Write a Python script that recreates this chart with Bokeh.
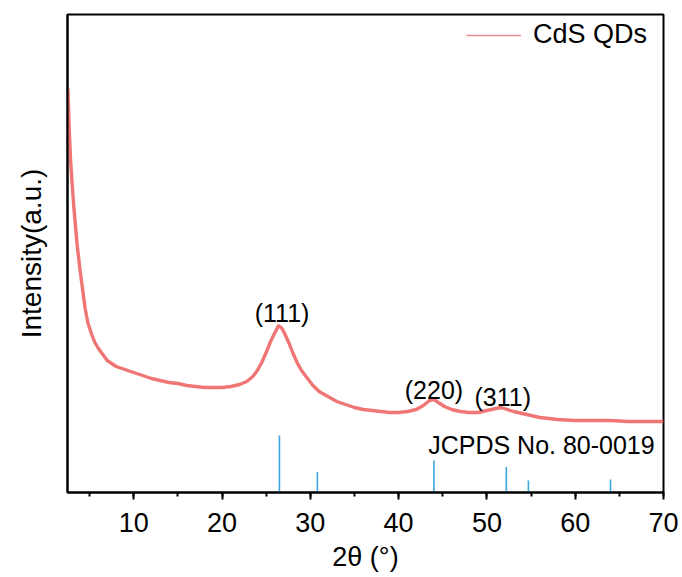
from bokeh.plotting import figure
from bokeh.models import Range1d, SingleIntervalTicker, FixedTicker, Legend, LegendItem
from bokeh.core.properties import value
from bokeh.embed import file_html
from bokeh.resources import INLINE

# XRD pattern of CdS QDs (2theta in degrees, intensity in arbitrary units)
two_theta = [2.55, 2.7, 2.85, 3.0, 3.2, 3.4, 3.6, 3.9, 4.2, 4.5, 4.8, 5.2, 5.6, 6.0, 6.5,
             7.0, 7.5, 8.0, 9.0, 10.0, 11.0, 12.0, 13.0, 14.0, 15.0, 16.0, 17.0, 18.0,
             19.0, 20.0, 21.0, 22.0, 22.8, 23.5, 24.0, 24.5, 25.0, 25.5, 26.0, 26.4,
             26.8, 27.2, 27.6, 28.0, 28.5, 29.0, 29.6, 30.3, 31.0, 32.0, 33.0, 34.0,
             35.0, 36.0, 37.0, 38.0, 39.0, 40.0, 41.0, 42.0, 42.8, 43.5, 44.0, 44.5,
             45.2, 46.0, 47.0, 48.0, 49.0, 50.0, 51.0, 51.6, 52.3, 53.0, 54.0, 55.0,
             56.0, 57.0, 58.0, 60.0, 62.0, 64.0, 66.0, 68.0, 70.0]
intensity = [404, 362, 332, 312, 287, 267, 247, 224, 204, 184, 170, 159, 150, 144, 138,
             132, 129, 126, 123, 120, 117, 114, 112, 110, 109, 107, 106, 105,
             105, 105, 106, 108, 111, 116, 122, 130, 140, 151, 160, 167,
             164, 157, 149, 140, 130, 122, 115, 107, 101, 96, 91, 88,
             85, 83, 82, 81, 80, 80, 81, 83, 87, 92, 93, 90,
             86, 83, 81, 80, 80, 82, 84, 85, 83, 81, 79, 77,
             75, 74, 73, 72, 72, 72, 71, 71, 71]

# JCPDS No. 80-0019 reference lines
ref_pos = [26.5, 30.8, 44.0, 52.2, 54.7, 64.0]
ref_int = [57, 20.5, 32, 25.5, 12, 13]

# peak labels
peak_labels = ["(111)", "(220)", "(311)"]
peak_x = [26.8, 44.0, 51.8]
peak_y = [180, 103, 96]

FONT = "Liberation Sans"

p = figure(width=682, height=577, output_backend="svg", toolbar_location=None,
           x_range=Range1d(2.5, 70), y_range=Range1d(0, 478),
           min_border_left=67, min_border_right=19, min_border_top=14, min_border_bottom=85)
p.xgrid.visible = False
p.ygrid.visible = False
p.background_fill_color = "white"
p.border_fill_color = "white"
p.outline_line_color = "black"
p.outline_line_width = 2

curve = p.line(two_theta, intensity, line_color="#EE6767", line_width=3.4, line_alpha=0.9)
# thin, hidden copy of the curve: used only for the legend swatch
legend_swatch = p.line(two_theta, intensity, line_color="#F08A8A", line_width=1.5,
                       visible=False)
p.segment(x0=ref_pos, y0=[0] * len(ref_pos), x1=ref_pos, y1=ref_int,
          line_color="#3FA7E0", line_width=1.6)

p.text(x=peak_x, y=peak_y, text=peak_labels, text_align="center", text_baseline="middle",
       text_font=value(FONT), text_font_size="25px", text_color="black")
p.text(x=[69.0], y=[48], text=["JCPDS No. 80-0019"], text_align="right",
       text_baseline="middle", text_font=value(FONT), text_font_size="25px",
       text_color="black")

# x axis
xa = p.xaxis[0]
xa.ticker = SingleIntervalTicker(interval=10, num_minor_ticks=2)
xa.axis_label = "2θ (°)"
xa.axis_label_text_font = FONT
xa.axis_label_text_font_size = "27px"
xa.axis_label_text_font_style = "normal"
xa.axis_label_text_color = "black"
xa.axis_label_standoff = 7
xa.major_label_text_font = FONT
xa.major_label_text_font_size = "27px"
xa.major_label_text_color = "black"
xa.major_label_standoff = 13
xa.axis_line_width = 2
xa.major_tick_line_width = 2
xa.minor_tick_line_width = 2
xa.major_tick_out = 7
xa.major_tick_in = 0
xa.minor_tick_out = 4
xa.minor_tick_in = 0

# y axis (no ticks)
ya = p.yaxis[0]
ya.ticker = FixedTicker(ticks=[])
ya.axis_label = "Intensity(a.u.)"
ya.axis_label_text_font = FONT
ya.axis_label_text_font_size = "28px"
ya.axis_label_text_font_style = "normal"
ya.axis_label_text_color = "black"
ya.axis_label_standoff = 21
ya.axis_line_width = 2
ya.major_tick_out = 0
ya.major_tick_in = 0
ya.minor_tick_out = 0
ya.minor_tick_in = 0
ya.major_label_text_font_size = "0px"

legend = Legend(items=[LegendItem(label="CdS QDs", renderers=[legend_swatch])],
                location=(399, 442), padding=0, margin=0, spacing=0,
                glyph_width=55, glyph_height=30, label_height=30, label_standoff=12,
                label_text_font=FONT, label_text_font_size="27px",
                label_text_color="black", label_text_baseline="middle",
                inactive_fill_alpha=0, click_policy="none",
                border_line_color=None, background_fill_alpha=0)
p.add_layout(legend)

open("out.html", "w").write(file_html(p, INLINE))
